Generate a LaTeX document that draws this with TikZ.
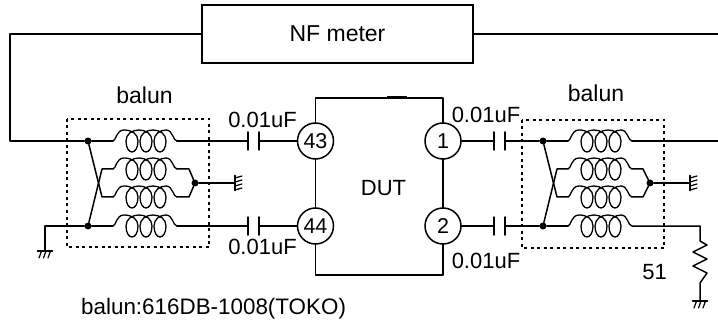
\documentclass[tikz,border=0pt]{standalone}
\usepackage{fontspec}
\setmainfont{Liberation Sans}
\newcommand{\fsz}[1]{\fontsize{#1}{#1}\selectfont}
\tikzset{
  wire/.style={line width=1.5pt,line cap=round,line join=round},
  txt/.style={inner sep=0pt,font=\fsz{22}},
  pinc/.style={circle,draw,line width=1.5pt,minimum size=36pt,inner sep=0pt,fill=white,font=\fsz{21.5}},
  dot/.style={circle,fill=black,inner sep=0pt,minimum size=7pt},
  dotbox/.style={draw,line width=1.4pt,dash pattern=on 3pt off 3.5pt},
  coilsym/.pic={
    \coordinate (-in) at (0,0);
    \coordinate (-out) at (64,0);
    \draw[wire,line width=1.3pt] (0,0) .. controls (3,0) and (3,-11) .. (11,-11)
      .. controls (19,-11) and (25,-7) .. (25,0) .. controls (25,7) and (22,11) .. (19,11)
      .. controls (16,11) and (13,7) .. (13,0) .. controls (13,-7) and (19,-11) .. (26,-11)
      .. controls (33,-11) and (39,-7) .. (39,0) .. controls (39,7) and (36,11) .. (33,11)
      .. controls (30,11) and (27,7) .. (27,0) .. controls (27,-7) and (33,-11) .. (40,-11)
      .. controls (47,-11) and (53,-7) .. (53,0) .. controls (53,7) and (50,11) .. (47,11)
      .. controls (44,11) and (41,7) .. (41,0) .. controls (41,-7) and (47,-11) .. (53,-11)
      .. controls (60,-11) and (60,0) .. (64,0);
  },
  gndv/.pic={
    \coordinate (-top) at (0,0);
    \draw[wire] (-7.5,0) -- (7.5,0);
    \draw[wire,line width=1.2pt] (-3.5,0) -- (-6,7) (1,0) -- (-1.5,7) (5.5,0) -- (3,7);
  },
  gndh/.pic={
    \coordinate (-top) at (0,0);
    \draw[wire] (0,-7.5) -- (0,7.5);
    \draw[wire,line width=1.2pt] (0,-5) -- (7,-7) (0,-1) -- (7,-3) (0,3) -- (7,1) (0,7) -- (7,5);
  }
}
\begin{document}
\begin{tikzpicture}[x=1pt,y=-1pt]
\useasboundingbox (0,0) rectangle (718,326);
% NF meter
\node[draw,line width=1.5pt,minimum width=271pt,minimum height=58pt,inner sep=0pt,font=\fsz{23}] (nf) at (337.5,34) {NF meter};
% DUT body
\coordinate (tl) at (315.5,98);
\coordinate (tr) at (443,98);
\coordinate (bl) at (315.5,275);
\coordinate (br) at (443,275);
\coordinate (m1) at (387,98);
\coordinate (m2) at (407,98);
\draw[wire] (tl) -- (tr) -- (br) -- (bl) -- cycle;
\draw[line width=3pt] (m1) -- (m2);
\node[pinc] (p43) at (315.5,141) {43};
\node[pinc] (p44) at (315.5,226) {44};
\node[pinc] (p1) at (443,141) {1};
\node[pinc] (p2) at (443,226) {2};
\node[txt] (dut) at (383.5,188) {DUT};
% dashed boxes
\draw[dotbox] (67,119) rectangle (209,247);
\draw[dotbox] (522,120) rectangle (664,248);
% left balun
\pic (a) at (113,141) {coilsym};
\pic (b) at (113,169) {coilsym};
\pic (c) at (113,197) {coilsym};
\pic (d) at (113,226) {coilsym};
\node[dot] (ja) at (88,141) {};
\node[dot] (jd) at (88,226) {};
\node[dot] (je) at (195,183) {};
\coordinate (wl1) at (10,34);
\coordinate (wl2) at (10,141);
\coordinate (wg1) at (45,226);
\coordinate (wg2) at (45,251);
\coordinate (cb) at (102,169);
\coordinate (cc) at (102,197);
\coordinate (eb) at (189,169);
\coordinate (ec) at (189,197);
\coordinate (c1a) at (248,141);
\coordinate (c1b) at (259,141);
\coordinate (c2a) at (248,226);
\coordinate (c2b) at (259,226);
\draw[wire] (nf.west |- wl1) -- (wl1) -- (wl2) -- (ja) -- (a-in);
\draw[wire] (ja) -- (cc) -- (c-in);
\draw[wire] (jd) -- (cb) -- (b-in);
\draw[wire] (wg2) -- (wg1) -- (jd) -- (d-in);
\draw[wire] (b-out) -- (eb) -- (je) -- (ec) -- (c-out);
\pic (g1) at (45,251) {gndv};
\coordinate (gh1) at (235,183);
\draw[wire] (je) -- (gh1);
\pic (g2) at (235,183) {gndh};
\draw[wire] (a-out) -- (c1a);
\draw[wire] (d-out) -- (c2a);
\draw[wire] (c1a |- 0,132) -- (c1a |- 0,150);
\draw[wire] (c1b |- 0,132) -- (c1b |- 0,150);
\draw[wire] (c2a |- 0,217) -- (c2a |- 0,235);
\draw[wire] (c2b |- 0,217) -- (c2b |- 0,235);
\draw[wire] (c1b) -- (p43);
\draw[wire] (c2b) -- (p44);
% right balun
\pic (e) at (568,141) {coilsym};
\pic (f) at (568,169) {coilsym};
\pic (h) at (568,197) {coilsym};
\pic (i) at (568,226) {coilsym};
\node[dot] (jf) at (543,141) {};
\node[dot] (ji) at (543,226) {};
\node[dot] (jg) at (650,183) {};
\coordinate (cf) at (557,169);
\coordinate (ch) at (557,197);
\coordinate (ef) at (643,169);
\coordinate (eh) at (643,197);
\coordinate (c3a) at (494,141);
\coordinate (c3b) at (505,141);
\coordinate (c4a) at (494,226);
\coordinate (c4b) at (505,226);
\draw[wire] (p1) -- (c3a);
\draw[wire] (p2) -- (c4a);
\draw[wire] (c3a |- 0,132) -- (c3a |- 0,150);
\draw[wire] (c3b |- 0,132) -- (c3b |- 0,150);
\draw[wire] (c4a |- 0,217) -- (c4a |- 0,235);
\draw[wire] (c4b |- 0,217) -- (c4b |- 0,235);
\draw[wire] (c3b) -- (jf) -- (e-in);
\draw[wire] (c4b) -- (ji) -- (i-in);
\draw[wire] (jf) -- (ch) -- (h-in);
\draw[wire] (ji) -- (cf) -- (f-in);
\draw[wire] (f-out) -- (ef) -- (jg) -- (eh) -- (h-out);
\coordinate (gh2) at (690,183);
\draw[wire] (jg) -- (gh2);
\pic (g3) at (690,183) {gndh};
\coordinate (wr0) at (718,141);
\coordinate (wr1) at (718,34);
\draw[wire] (e-out) -- (wr0);
\draw[wire] (nf.east) -- (wr1);
% resistor
\coordinate (r0) at (700,226);
\coordinate (r1) at (700,241);
\coordinate (r2) at (700,283);
\coordinate (r3) at (700,301);
\draw[wire] (i-out) -- (r0) -- (r1) -- ++(7,4) -- ++(-14,7) -- ++(14,7) -- ++(-14,7) -- ++(14,7) -- (r2) -- (r3);
\pic (g4) at (700,301) {gndv};
% labels
\node[txt,font=\fsz{23}] (l1) at (144.5,95) {balun};
\node[txt,font=\fsz{23}] (l2) at (596,93) {balun};
\node[txt] (l3) at (262.5,120) {0.01uF};
\node[txt] (l4) at (262.5,247) {0.01uF};
\node[txt] (l5) at (486,115) {0.01uF};
\node[txt] (l6) at (486,261) {0.01uF};
\node[txt] (l7) at (654.5,272.5) {51};
\node[txt,anchor=base west,font=\fsz{22.4}] (l8) at (81,314) {balun:616DB-1008(TOKO)};
\end{tikzpicture}
\end{document}
